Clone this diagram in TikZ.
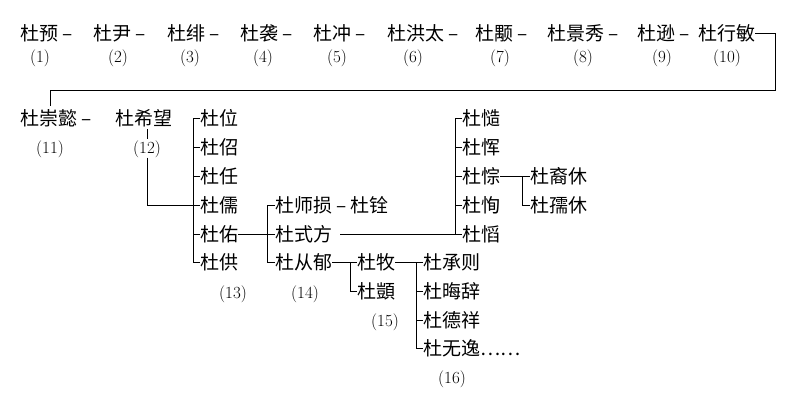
\documentclass[tikz,border=0pt]{standalone}
\usepackage{fontspec}
\newfontfamily\cjk{Noto Sans CJK SC}
\begin{document}
\begin{tikzpicture}[x=1pt,y=-1pt,
  nm/.style={anchor=west,inner sep=0pt,font=\cjk\fontsize{19}{21}\selectfont},
  num/.style={inner sep=0pt,font=\fontsize{17}{19}\selectfont},
  ln/.style={line width=1pt}]
\useasboundingbox (0,0) rectangle (800,400);
% row 1
\node[nm] (a1) at (20,33) {杜预 –};
\node[nm] (a2) at (93,33) {杜尹 –};
\node[nm] (a3) at (167,33) {杜绯 –};
\node[nm] (a4) at (240,33) {杜袭 –};
\node[nm] (a5) at (313,33) {杜冲 –};
\node[nm] (a6) at (387,33) {杜洪太 –};
\node[nm] (a7) at (475,33) {杜颙 –};
\node[nm] (a8) at (547,33) {杜景秀 –};
\node[nm] (a9) at (637,33) {杜逊 –};
\node[nm] (a10) at (698,33) {杜行敏};
\foreach \x/\t [count=\i] in {40/(1),118/(2),190/(3),263/(4),337/(5),413/(6),500/(7),583/(8),662/(9),727/(10)}
  \node[num] (p\i) at (\x,58) {\t};
% row 2
\node[nm] (b11) at (20,118) {杜崇懿 –};
\node[nm] (b12) at (115,118) {杜希望};
\node[num] (p11) at (50,149) {(11)};
\node[num] (p12) at (147,149) {(12)};
\node[nm] (c1) at (200,118) {杜位};
\node[nm] (c2) at (200,147) {杜佋};
\node[nm] (c3) at (200,176) {杜任};
\node[nm] (c4) at (200,205) {杜儒};
\node[nm] (c5) at (200,234) {杜佑};
\node[nm] (c6) at (200,262) {杜供};
\node[num] (p13) at (233,294) {(13)};
\node[nm] (d1) at (275,205) {杜师损 – 杜铨};
\node[nm] (d2) at (275,234) {杜式方};
\node[nm] (d3) at (275,262) {杜从郁};
\node[num] (p14) at (305,294) {(14)};
\node[nm] (e1) at (462,118) {杜慥};
\node[nm] (e2) at (462,147) {杜恽};
\node[nm] (e3) at (462,176) {杜悰};
\node[nm] (e4) at (462,205) {杜恂};
\node[nm] (e5) at (462,234) {杜慆};
\node[nm] (f1) at (530,176) {杜裔休};
\node[nm] (f2) at (530,205) {杜孺休};
\node[nm] (g1) at (357,262) {杜牧};
\node[nm] (g2) at (357,291) {杜顗};
\node[num] (p15) at (385,322) {(15)};
\node[nm] (h1) at (423,262) {杜承则};
\node[nm] (h2) at (423,291) {杜晦辞};
\node[nm] (h3) at (423,320) {杜德祥};
\node[nm] (h4) at (423,348) {杜无逸……};
\node[num] (p16) at (452,379) {(16)};
% connectors
\coordinate (k1) at (775,90);
\coordinate (k2) at (50,90);
\draw[ln] (a10.east) -- (775,33) -- (k1) -- (k2) -- (50,106);
\draw[ln] (147,129) -- (147,139);
\draw[ln] (p12.south) -- (147,205) -- (193,205);
\draw[ln] (c1.west) -- (193,118) -- (193,262) -- (c6.west);
\foreach \n in {c2,c3,c4,c5} \draw[ln] (193,0 |- \n.west) -- (\n.west);
\draw[ln] (c5.east) -- (d2.west);
\draw[ln] (d1.west) -- (267,205) -- (267,262) -- (d3.west);
\draw[ln] (d2.east)++(8,0) -- (e5.west);
\draw[ln] (e1.west) -- (455,118) -- (455,234);
\foreach \n in {e2,e3,e4} \draw[ln] (455,0 |- \n.west) -- (\n.west);
\draw[ln] (e3.east) -- (f1.west);
\draw[ln] (522,176) -- (522,205) -- (f2.west);
\draw[ln] (d3.east) -- (g1.west);
\draw[ln] (350,262) -- (350,291) -- (g2.west);
\draw[ln] (g1.east) -- (h1.west);
\draw[ln] (416,262) -- (416,348) -- (h4.west);
\foreach \n in {h2,h3} \draw[ln] (416,0 |- \n.west) -- (\n.west);
\end{tikzpicture}
\end{document}
